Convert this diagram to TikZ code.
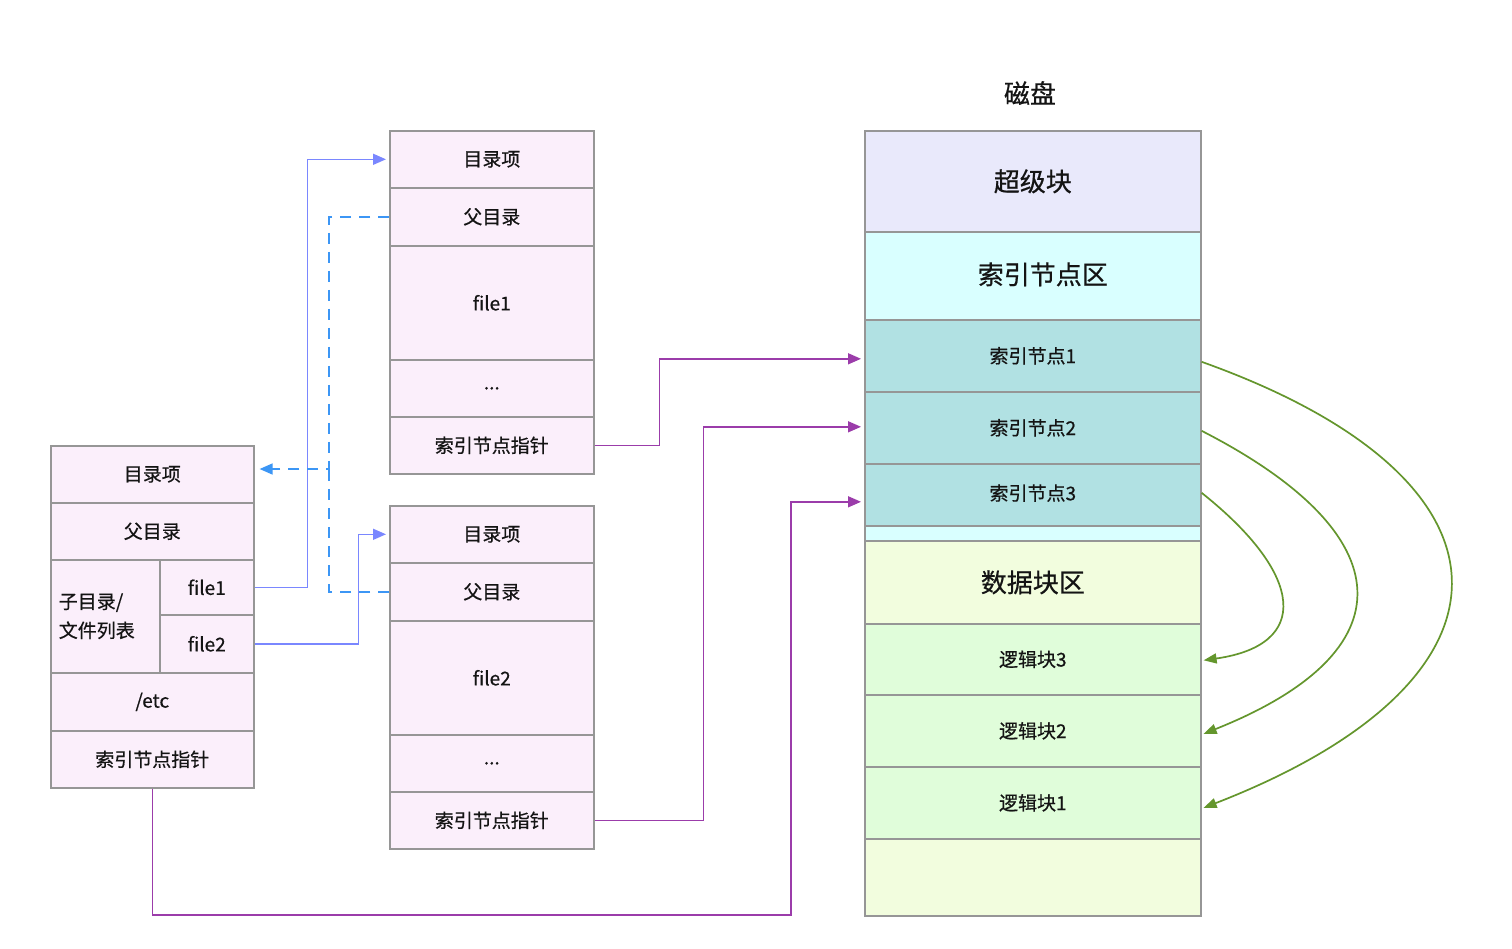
\documentclass[tikz,border=0pt]{standalone}
\usepackage{fontspec}
\setmainfont[FakeBold=0.6]{Noto Sans CJK SC}
\usetikzlibrary{arrows.meta,calc}
\definecolor{dirfill}{RGB}{251,239,251}
\definecolor{boxgray}{RGB}{150,150,150}
\definecolor{superfill}{RGB}{233,233,251}
\definecolor{inodearea}{RGB}{217,255,255}
\definecolor{inodefill}{RGB}{177,225,227}
\definecolor{datafill}{RGB}{242,253,222}
\definecolor{blockfill}{RGB}{224,253,218}
\definecolor{bluesolid}{RGB}{122,135,255}
\definecolor{bluedash}{RGB}{60,150,245}
\definecolor{purp}{RGB}{155,60,170}
\definecolor{grn}{RGB}{100,150,45}
\definecolor{txt}{RGB}{20,20,20}
\newcommand\normfont{\fontsize{19pt}{29pt}\selectfont}
\newcommand\bigfont{\fontsize{26pt}{31pt}\selectfont}
\tikzset{
  cell/.style={draw=boxgray, line width=1.6pt, anchor=north west, inner sep=0pt, font=\normfont, text=txt},
  dir/.style={cell, fill=dirfill},
  conn/.style={line width=1.5pt},
  tipbig/.style={-{Triangle[length=13pt,width=11pt]}},
  bluearrow/.style={conn, bluesolid, tipbig, shorten >=3pt},
  dasharrow/.style={conn, bluedash, dash pattern=on 11pt off 8pt},
  purparrow/.style={conn, purp, tipbig, shorten >=3pt},
  grnarrow/.style={line width=1.7pt, grn, -{Triangle[length=13pt,width=10pt]}},
}
\begin{document}
\begin{tikzpicture}[x=1pt,y=-1pt]
\useasboundingbox[fill=white] (0,0) rectangle (1512,948);

% left directory
\node[dir, minimum width=203pt, minimum height=57pt] (l1) at (50,445) {目录项};
\node[dir, minimum width=203pt, minimum height=57pt] (l2) at (50,502) {父目录};
\node[dir, minimum width=109pt, minimum height=113pt, text width=93pt, align=left, inner xsep=8pt] (l3) at (50,559) {子目录/\\文件列表};
\node[dir, minimum width=94pt, minimum height=55pt] (lf1) at (159,559) {file1};
\node[dir, minimum width=94pt, minimum height=58pt] (lf2) at (159,614) {file2};
\node[dir, minimum width=203pt, minimum height=58pt] (l5) at (50,672) {/etc};
\node[dir, minimum width=203pt, minimum height=57pt] (l6) at (50,730) {索引节点指针};

% top middle directory
\node[dir, minimum width=204pt, minimum height=57pt] (t1) at (389,130) {目录项};
\node[dir, minimum width=204pt, minimum height=58pt] (t2) at (389,187) {父目录};
\node[dir, minimum width=204pt, minimum height=114pt] (t3) at (389,245) {file1};
\node[dir, minimum width=204pt, minimum height=57pt] (t4) at (389,359) {...};
\node[dir, minimum width=204pt, minimum height=57pt] (t5) at (389,416) {索引节点指针};

% bottom middle directory
\node[dir, minimum width=204pt, minimum height=57pt] (b1) at (389,505) {目录项};
\node[dir, minimum width=204pt, minimum height=58pt] (b2) at (389,562) {父目录};
\node[dir, minimum width=204pt, minimum height=114pt] (b3) at (389,620) {file2};
\node[dir, minimum width=204pt, minimum height=57pt] (b4) at (389,734) {...};
\node[dir, minimum width=204pt, minimum height=57pt] (b5) at (389,791) {索引节点指针};

% disk
\node[font=\bigfont, text=txt] (title) at (1030,93) {磁盘};
\node[cell, fill=superfill, minimum width=336pt, minimum height=101pt, font=\bigfont] (d1) at (864,130) {超级块};
\node[cell, fill=inodearea, minimum width=336pt, minimum height=88pt, font=\bigfont] (d2) at (864,231) {\hspace*{20pt}\raisebox{5pt}{索引节点区}};
\node[cell, fill=inodefill, minimum width=336pt, minimum height=72pt] (d3) at (864,319) {索引节点1};
\node[cell, fill=inodefill, minimum width=336pt, minimum height=72pt] (d4) at (864,391) {索引节点2};
\node[cell, fill=inodefill, minimum width=336pt, minimum height=62pt] (d5) at (864,463) {\raisebox{5pt}{索引节点3}};
\node[cell, fill=inodearea, minimum width=336pt, minimum height=15pt] (d6) at (864,525) {};
\node[cell, fill=datafill, minimum width=336pt, minimum height=83pt, font=\bigfont] (d7) at (864,540) {数据块区};
\node[cell, fill=blockfill, minimum width=336pt, minimum height=71pt] (d8) at (864,623) {逻辑块3};
\node[cell, fill=blockfill, minimum width=336pt, minimum height=72pt] (d9) at (864,694) {逻辑块2};
\node[cell, fill=blockfill, minimum width=336pt, minimum height=72pt] (d10) at (864,766) {逻辑块1};
\node[cell, fill=datafill, minimum width=336pt, minimum height=77pt] (d11) at (864,838) {};

% blue solid connectors
\draw[bluearrow] (lf1.east) -- ([xshift=53pt]lf1.east) |- (t1.west);
\draw[bluearrow] (lf2.east) -- ([xshift=104pt]lf2.east) |- (b1.west);

% blue dashed connectors
\coordinate (dj) at (329,469);
\draw[dasharrow, tipbig, shorten >=5pt] (t2.west) -| (dj) -- (l1.east |- dj);
\draw[dasharrow] (b2.west) -| (dj);

% purple connectors
\draw[purparrow] (t5.east) -- ([xshift=65pt]t5.east) |- ([yshift=-3pt]d3.west);
\draw[purparrow] (b5.east) -- ([xshift=109pt]b5.east) |- ([yshift=1pt]d4.west);
\coordinate (pc) at (791,915);
\draw[purparrow] (l6.south) |- (pc) |- ([yshift=-7pt]d5.west);

% green curves
\draw[grnarrow] ([yshift=-6pt]d3.east) .. controls (1533,480) and (1533,680) .. ([xshift=2pt,yshift=-5pt]d10.east);
\draw[grnarrow] ([yshift=-3pt]d4.east) .. controls (1405,535) and (1409,652) .. ([xshift=2pt,yshift=-3pt]d9.east);
\draw[grnarrow] ([yshift=2pt]d5.east) .. controls (1305,575) and (1311,645) .. ([xshift=2pt,yshift=-1pt]d8.east);
\end{tikzpicture}
\end{document}
